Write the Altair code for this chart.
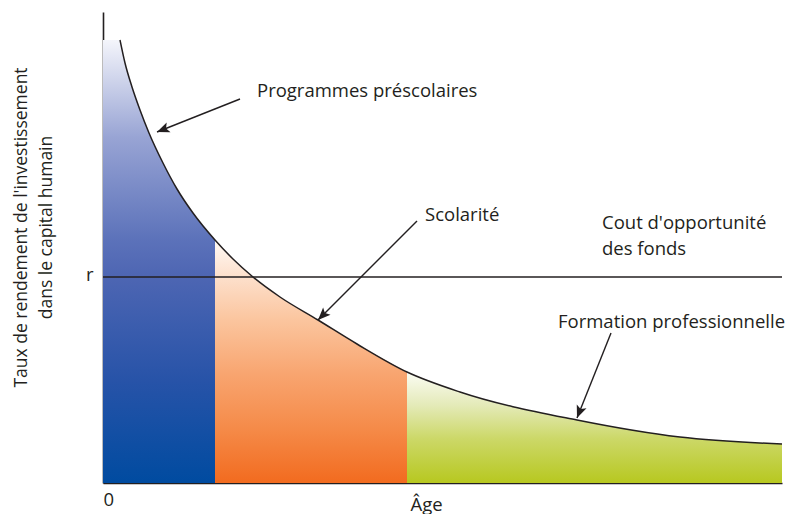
import math
import altair as alt
import pandas as pd

# ---- data ----
curve_x = [17, 22, 29, 37, 46, 60, 74, 90, 112, 130, 150, 177, 215, 254, 304, 357, 474, 577, 679]
curve_y = [443, 420, 396, 373, 350, 320, 294, 270, 243, 224, 206, 186, 163, 139, 111, 91, 63, 46, 39]

fill_start_x = 0          # blue fill starts at the axis
fill_start_y = 443
break_preschool = 112     # end of "Programmes préscolaires"
break_school = 304        # end of "Scolarité"

r_value = 206
x_max = 679
y_max = 471

arrow_x_start = [137, 314, 508]
arrow_y_start = [384, 262, 150]
arrow_x_tip = [54, 215, 474]
arrow_y_tip = [351, 163, 65]

label_text = ["Programmes préscolaires", "Scolarité", "Cout d'opportunité", "des fonds",
              "Formation professionnelle"]
label_x = [154, 322, 499, 499, 455]
label_y = [386, 262, 254, 228, 155]

FONT = "Open Sans"
INK = "#231f20"

# ---- tables ----
curve = pd.DataFrame({"x": curve_x, "y": curve_y})
full = pd.concat([pd.DataFrame({"x": [fill_start_x], "y": [fill_start_y]}), curve], ignore_index=True)
blue = full[full.x <= break_preschool]
orange = full[(full.x >= break_preschool) & (full.x <= break_school)]
green = full[full.x >= break_school]

angles = [(math.degrees(math.atan2(xt - xs, yt - ys)) + 360) % 360
          for xs, ys, xt, yt in zip(arrow_x_start, arrow_y_start, arrow_x_tip, arrow_y_tip)]
arrows = pd.DataFrame({"x": arrow_x_start, "y": arrow_y_start,
                       "x2": arrow_x_tip, "y2": arrow_y_tip, "angle": angles})
heads = pd.DataFrame({"x": arrow_x_tip, "y": arrow_y_tip, "angle": angles})
labels = pd.DataFrame({"x": label_x, "y": label_y, "text": label_text})
rline = pd.DataFrame({"x": [0], "x2": [x_max], "y": [r_value]})

xscale = alt.Scale(domain=[0, x_max], nice=False, zero=False)
yscale = alt.Scale(domain=[0, y_max], nice=False, zero=False)

xaxis = alt.Axis(values=[0], title="Âge", labelFontSize=18.5, labelPadding=7,
                 titleFontSize=18.5,
                 titleX=323, titleY=27, titleAlign="center", titleBaseline="alphabetic")
yaxis = alt.Axis(values=[r_value], labelExpr="'r'", labelFontSize=18.5, labelPadding=10,
                 labelOffset=-3,
                 title=["Taux de rendement de l'investissement", "dans le capital humain"],
                 titleFontSize=17.5,
                 titleAngle=270, titleX=-91, titleY=215, titleAlign="center",
                 titleBaseline="top", titleLineHeight=25)

X = alt.X("x:Q", scale=xscale, axis=xaxis)
Y = alt.Y("y:Q", scale=yscale, axis=yaxis)


def grad(stops):
    return alt.Gradient(gradient="linear", x1=0, x2=0, y1=0, y2=1,
                        stops=[alt.GradientStop(offset=o, color=c) for o, c in stops])


blue_area = alt.Chart(blue).mark_area(
    interpolate="monotone",
    color=grad([(0, "#f4f5fb"), (0.22, "#98a4d4"), (0.45, "#5c72ba"),
                (0.53, "#4e66b3"), (0.77, "#2753a8"), (1, "#004ba0")]),
).encode(x=X, y=Y)

orange_area = alt.Chart(orange).mark_area(
    interpolate="monotone",
    color=grad([(0, "#fffaf6"), (0.15, "#fde0cc"), (0.33, "#fbc59e"),
                (0.55, "#f8a570"), (0.78, "#f58a48"), (1, "#f26b1f")]),
).encode(x=X, y=Y)

green_area = alt.Chart(green).mark_area(
    interpolate="monotone",
    color=grad([(0, "#fbfcf4"), (0.3, "#e4eab8"), (0.6, "#ccd868"), (1, "#b7c820")]),
).encode(x=X, y=Y)

curve_line = alt.Chart(curve).mark_line(
    interpolate="monotone", color=INK, strokeWidth=1.5
).encode(x=X, y=Y)

r_rule = alt.Chart(rline).mark_rule(color=INK, strokeWidth=1.3).encode(
    x=X, x2="x2:Q", y=Y)

arrow_lines = alt.Chart(arrows).mark_rule(color=INK, strokeWidth=1.4).encode(
    x=X, x2="x2:Q", y=Y, y2="y2:Q")

arrow_heads = alt.Chart(heads).mark_point(
    shape="M0,0L0.42,1L0,0.78L-0.42,1Z", size=625, filled=True, opacity=1,
    color=INK, strokeWidth=0,
).encode(x=X, y=Y, angle=alt.Angle("angle:Q", scale=None))

texts = alt.Chart(labels).mark_text(
    align="left", baseline="alphabetic", font=FONT, fontSize=18.5, color=INK
).encode(x=X, y=Y, text="text:N")

chart = alt.layer(
    blue_area, orange_area, green_area, curve_line, r_rule, arrow_lines, arrow_heads, texts
).properties(
    width=679, height=471,
    autosize=alt.AutoSizeParams(type="none"),
    padding={"left": 95, "top": 4, "right": 4, "bottom": 31},
).configure_view(stroke=None).configure_axis(
    domainColor=INK, domainWidth=1.6, ticks=False, tickSize=0, grid=False,
    labelFont=FONT, labelColor=INK, titleFont=FONT, titleColor=INK,
    titleFontWeight="normal", labelAngle=0,
)

chart.save("out.html", embed_options={"renderer": "svg", "actions": False})
